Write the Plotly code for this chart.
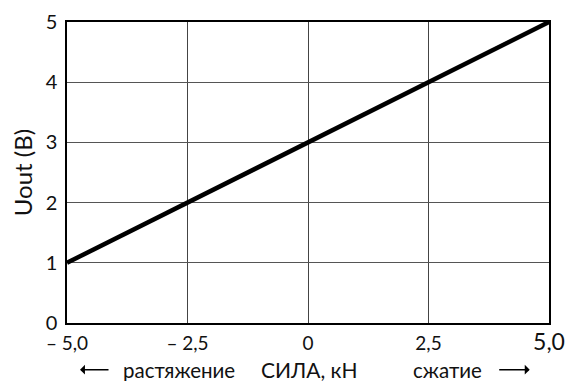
import plotly.graph_objects as go

# Sensor output voltage vs applied force
force_kn = [-5.0, -2.5, 0.0, 2.5, 5.0]
uout_v = [1, 2, 3, 4, 5]

x_tickvals = [-5.0, -2.5, 0.0, 2.5, 5.0]
x_ticktext = ["\u2013 5,0", "\u2013 2,5", "0", "2,5", "<span style='font-size:23px'>5,0</span>"]
y_tickvals = [0, 1, 2, 3, 4, 5]

FONT = "Lato, 'Open Sans', sans-serif"

fig = go.Figure()
fig.add_trace(go.Scatter(
    x=force_kn, y=uout_v, mode="lines",
    line=dict(color="black", width=4.5),
    showlegend=False, hoverinfo="skip",
))

fig.update_layout(
    width=566, height=381,
    margin=dict(l=67, r=17, t=22, b=58, autoexpand=False),
    paper_bgcolor="white", plot_bgcolor="white",
    font=dict(family=FONT, size=19, color="#111"),
)
fig.update_xaxes(
    range=[-5, 5], tickvals=x_tickvals, ticktext=x_ticktext,
    showgrid=True, gridcolor="#444", gridwidth=1,
    showline=True, linecolor="black", linewidth=1.5, mirror=True,
    zeroline=False, ticks="", ticklabelstandoff=2, automargin=False,
    tickfont=dict(size=19),
)
fig.update_yaxes(
    range=[0, 5], tickvals=y_tickvals,
    showgrid=True, gridcolor="#555", gridwidth=1,
    showline=True, linecolor="black", linewidth=1.5, mirror=True,
    zeroline=False, ticks="", ticklabelstandoff=4, automargin=False,
    title=dict(text="Uout (B)", font=dict(size=24), standoff=6),
    tickfont=dict(size=20),
)

# Axis caption row with direction hints
cap_y = -0.155
fig.add_annotation(text="СИЛА, кН", xref="paper", yref="paper",
                   x=0.504, y=cap_y, xanchor="center", yanchor="middle",
                   showarrow=False, font=dict(size=21))
fig.add_annotation(text="растяжение", xref="paper", yref="paper",
                   x=0.233, y=cap_y, xanchor="center", yanchor="middle",
                   showarrow=False, font=dict(size=20.5))
fig.add_annotation(text="сжатие", xref="paper", yref="paper",
                   x=0.79, y=cap_y, xanchor="center", yanchor="middle",
                   showarrow=False, font=dict(size=20.5))
# left arrow
fig.add_annotation(xref="paper", yref="paper", x=0.027, y=cap_y,
                   ax=30, ay=0,
                   text="", showarrow=True, arrowhead=1, arrowsize=1.1,
                   arrowwidth=1.5, arrowcolor="black")
# right arrow
fig.add_annotation(xref="paper", yref="paper", x=0.96, y=cap_y,
                   ax=-32, ay=0, text="", showarrow=True, arrowhead=1,
                   arrowsize=1.1, arrowwidth=1.5, arrowcolor="black")

fig.write_html("out.html")
